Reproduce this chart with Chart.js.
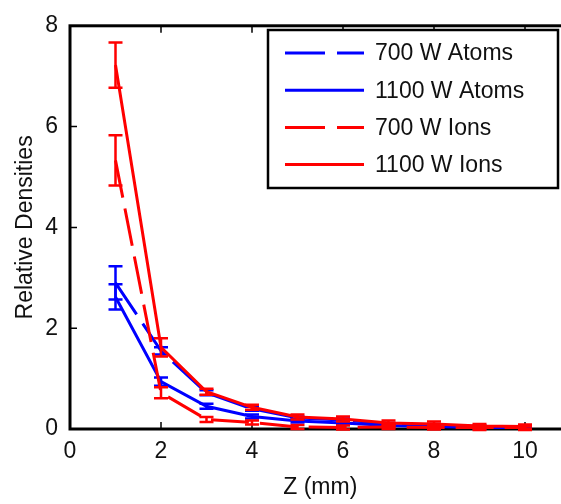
<!DOCTYPE html>
<html>
<head>
<meta charset="utf-8">
<script src="https://cdn.jsdelivr.net/npm/chart.js@4.4.1/dist/chart.umd.min.js"></script>
<style>
  html, body { margin: 0; padding: 0; background: #fff; overflow: hidden; }
  #wrap { width: 580px; height: 504px; position: relative; }
</style>
</head>
<body>
<div id="wrap"><canvas id="densityChart"></canvas></div>
<script>
// Relative densities vs distance Z

const zValues = [1, 2, 3, 4, 5, 6, 7, 8, 9, 10];

const atoms700 = [2.90, 1.55, 0.72, 0.40, 0.22, 0.18, 0.10, 0.08, 0.05, 0.04];
const atoms700Err = [0.33, 0.07, 0.05, 0.04, 0.03, 0.03, 0.02, 0.02, 0.02, 0.02];

const atoms1100 = [2.62, 0.94, 0.45, 0.25, 0.16, 0.12, 0.07, 0.05, 0.03, 0.02];
const atoms1100Err = [0.25, 0.08, 0.05, 0.04, 0.03, 0.02, 0.02, 0.02, 0.02, 0.02];

const ions700 = [5.33, 0.72, 0.19, 0.13, 0.04, 0.03, 0.04, 0.03, 0.02, 0.02];
const ions700Err = [0.50, 0.11, 0.05, 0.04, 0.04, 0.04, 0.04, 0.04, 0.04, 0.04];

const ions1100 = [7.22, 1.62, 0.74, 0.43, 0.24, 0.20, 0.12, 0.10, 0.06, 0.05];
const ions1100Err = [0.45, 0.18, 0.06, 0.05, 0.05, 0.05, 0.05, 0.05, 0.04, 0.04];

const xTicks = [0, 2, 4, 6, 8, 10];
const yTicks = [0, 2, 4, 6, 8];

const BLUE = '#0000ff';
const RED = '#ff0000';
const DASH = [38, 11];
const FONT = "'Liberation Sans', Arial, Helvetica, sans-serif";

function points(ys) {
    return zValues.map((z, i) => ({ x: z, y: ys[i] }));
}

function series(label, ys, errs, color, dashed, order) {
    return {
        label: label,
        data: points(ys),
        errors: errs,
        borderColor: color,
        backgroundColor: color,
        borderWidth: 3,
        borderDash: dashed ? DASH : [],
        pointRadius: 0,
        tension: 0,
        order: order
    };
}

// --- plugins ---

// plot frame with inward ticks
const framePlugin = {
    id: 'frame',
    beforeDatasetsDraw(chart) {
        const { ctx, chartArea: a, scales } = chart;
        ctx.save();
        ctx.strokeStyle = '#000';
        ctx.lineWidth = 3;
        ctx.strokeRect(a.left, a.top, a.right - a.left, a.bottom - a.top);
        ctx.lineWidth = 1.5;
        ctx.beginPath();
        xTicks.forEach(v => {
            const px = scales.x.getPixelForValue(v);
            ctx.moveTo(px, a.bottom); ctx.lineTo(px, a.bottom - 7);
            ctx.moveTo(px, a.top); ctx.lineTo(px, a.top + 7);
        });
        yTicks.forEach(v => {
            const py = scales.y.getPixelForValue(v);
            ctx.moveTo(a.left, py); ctx.lineTo(a.left + 7, py);
            ctx.moveTo(a.right, py); ctx.lineTo(a.right - 7, py);
        });
        ctx.stroke();
        ctx.restore();
    }
};

// vertical error bars with caps
const errorBarPlugin = {
    id: 'errorBars',
    afterDatasetDraw(chart, args) {
        const ds = chart.data.datasets[args.index];
        if (!ds.errors) return;
        const { ctx, scales } = chart;
        ctx.save();
        ctx.strokeStyle = ds.borderColor;
        ctx.lineWidth = 2.5;
        ctx.setLineDash([]);
        ctx.beginPath();
        ds.data.forEach((p, i) => {
            const px = scales.x.getPixelForValue(p.x);
            const top = scales.y.getPixelForValue(p.y + ds.errors[i]);
            const bot = scales.y.getPixelForValue(p.y - ds.errors[i]);
            ctx.moveTo(px, top); ctx.lineTo(px, bot);
            ctx.moveTo(px - 7, top); ctx.lineTo(px + 7, top);
            ctx.moveTo(px - 7, bot); ctx.lineTo(px + 7, bot);
        });
        ctx.stroke();
        ctx.restore();
    }
};

// boxed legend in the upper right
const boxLegendPlugin = {
    id: 'boxLegend',
    afterDraw(chart) {
        const ctx = chart.ctx;
        const box = { left: 268, top: 30, right: 558, bottom: 188 };
        ctx.save();
        ctx.fillStyle = '#fff';
        ctx.fillRect(box.left, box.top, box.right - box.left, box.bottom - box.top);
        ctx.strokeStyle = '#000';
        ctx.lineWidth = 2.5;
        ctx.strokeRect(box.left, box.top, box.right - box.left, box.bottom - box.top);
        ctx.font = '23px ' + FONT;
        ctx.textBaseline = 'middle';
        ctx.fillStyle = '#111';
        const legendOrder = [0, 1, 2, 3];
        legendOrder.forEach((di, row) => {
            const ds = chart.data.datasets[di];
            const y = 53 + row * 37.2;
            ctx.strokeStyle = ds.borderColor;
            ctx.lineWidth = 3;
            ctx.setLineDash(ds.borderDash.length ? [40, 12] : []);
            ctx.beginPath();
            ctx.moveTo(285, y); ctx.lineTo(364, y);
            ctx.stroke();
            ctx.setLineDash([]);
            ctx.fillText(ds.label, 375, y + 1);
        });
        ctx.restore();
    }
};

document.addEventListener('DOMContentLoaded', () => {
    const ctx = document.getElementById('densityChart').getContext('2d');

    Chart.defaults.font.family = FONT;
    Chart.defaults.font.size = 23;
    Chart.defaults.color = '#111';

    new Chart(ctx, {
        type: 'line',
        data: {
            datasets: [
                series('700 W Atoms', atoms700, atoms700Err, BLUE, true, 3),
                series('1100 W Atoms', atoms1100, atoms1100Err, BLUE, false, 2),
                series('700 W Ions', ions700, ions700Err, RED, true, 1),
                series('1100 W Ions', ions1100, ions1100Err, RED, false, 0)
            ]
        },
        options: {
            responsive: true,
            maintainAspectRatio: false,
            animation: false,
            layout: { padding: { left: 0, top: 14.5, right: 9.5, bottom: 0 } },
            plugins: {
                legend: { display: false },
                tooltip: { enabled: false }
            },
            scales: {
                x: {
                    type: 'linear',
                    min: 0,
                    max: 11,
                    afterBuildTicks: s => { s.ticks = xTicks.map(v => ({ value: v })); },
                    afterFit: s => { s.height = 75; },
                    grid: { display: false, drawTicks: false },
                    border: { display: false },
                    ticks: { padding: 9, maxRotation: 0 },
                    title: { display: true, text: 'Z (mm)', font: { size: 23 }, padding: { top: 0, bottom: 3 } }
                },
                y: {
                    type: 'linear',
                    min: 0,
                    max: 8,
                    afterBuildTicks: s => { s.ticks = yTicks.map(v => ({ value: v })); },
                    afterFit: s => { s.width = 70; },
                    grid: { display: false, drawTicks: false },
                    border: { display: false },
                    ticks: { padding: 12 },
                    title: { display: true, text: 'Relative Densities', font: { size: 23 }, padding: { top: 12, bottom: 0 } }
                }
            }
        },
        plugins: [framePlugin, errorBarPlugin, boxLegendPlugin]
    });
});
</script>
</body>
</html>
